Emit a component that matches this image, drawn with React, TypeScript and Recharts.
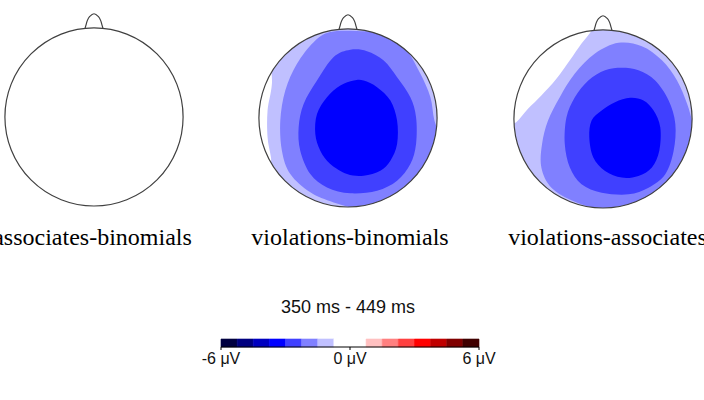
import React from 'react';
import { ScatterChart, Scatter, XAxis, YAxis, ReferenceArea } from 'recharts';

type Pt = { x: number; y: number };

const timeWindow = '350 ms - 449 ms';
const headLabels = ['associates-binomials', 'violations-binomials', 'violations-associates'];

// contour fill colours, outermost level first
const levelColors = ['#C0C0FF', '#8080FF', '#4040FF', '#0000FF'];

// scalp: left, top, right, bottom of the circle (radius 100)
const scalpExtent = [[-100, 0], [0, 100], [100, 0], [0, -100]];
const noseOutline = [[-10, 99.5], [-9, 103], [-7.5, 108], [-5, 112.5], [0, 115.7], [5, 112.5], [7.5, 108], [9, 103], [10, 99.5]];

// violations-binomials
const vbLevel1 = [[-85, 78], [-85.4, 38.2], [-90.3, 8.2], [-90.3, -21.7], [-86.5, -44.2], [-84, -66], [-60, -118], [118, -118], [118, 118], [-60, 118]];
const vbLevel2 = [[-19.9, 96.3], [10.1, 97.4], [47.6, 93.6], [66.3, 75.7], [81.3, 49.4], [92.5, 23.2], [97, -3], [105.6, -29.2], [103.7, -74.2], [58.8, -111.6], [17.6, -104], [-16.1, -94.8], [-42.3, -83.5], [-64.8, -62.9], [-74.2, -36.7], [-76, -3], [-70.4, 30.7], [-57.3, 60.7], [-38.6, 85]];
const vbLevel3 = [[2.6, 76.4], [21.3, 74.9], [40.1, 64.4], [55.1, 45.7], [70, 23.2], [76.4, 0.7], [76.4, -29.2], [70, -51.7], [55.1, -70.4], [32.6, -81.6], [2.6, -84.6], [-23.6, -77.9], [-42.3, -62.9], [-53.6, -36.7], [-55.4, -10.5], [-49.8, 15.7], [-34.8, 41.9], [-16.1, 68.2]];
const vbLevel4 = [[6.4, 41.9], [-8.6, 36.3], [-23.6, 23.2], [-34.8, 4.5], [-36.7, -18], [-31.1, -36.7], [-19.9, -51.7], [-1.1, -62.9], [17.6, -64.8], [36.3, -59.2], [47.6, -47.9], [55.1, -29.2], [55.1, -3], [47.6, 19.5], [32.6, 34.5], [17.6, 41.9]];

// violations-associates
const vaLevel1 = [[-5, 118], [-12, 100.4], [-24.1, 84.6], [-37.2, 65.8], [-52.3, 45.1], [-69.2, 26.3], [-84.2, 11.3], [-97.4, -3.8], [-112, -12], [-118, -118], [118, -118], [118, 118]];
const vaLevel2 = [[-9, 73.3], [17.3, 85.3], [43.6, 81.6], [66.2, 65.8], [83.1, 43.2], [94.4, 16.9], [101.9, -9.4], [109.4, -39.5], [100, -88.3], [47.4, -110.9], [2.3, -103.4], [-31.6, -92.9], [-57.9, -77.1], [-69.2, -54.5], [-68.4, -28.2], [-61.7, -1.9], [-48.5, 24.4], [-31.6, 50.8]];
const vaLevel3 = [[21.1, 57.5], [2.3, 54.5], [-16.5, 43.2], [-31.6, 24.4], [-41, 1.9], [-42.9, -28.2], [-37.2, -54.5], [-24.1, -73.3], [-1.5, -82.7], [28.6, -84.6], [51.1, -77.1], [69.9, -62], [79.3, -35.7], [81.2, -5.6], [73.7, 20.7], [58.6, 43.2], [39.8, 54.5]];
const vaLevel4 = [[30.5, 23.7], [13.5, 18.8], [-1.5, 9.4], [-12.8, -1.9], [-15.4, -20.7], [-10.9, -43.2], [2.3, -58.3], [21.1, -65.8], [39.8, -63.9], [54.9, -54.5], [63.2, -35.7], [64.3, -9.4], [56.8, 9.4], [45.5, 20.7]];

const contoursByHead = [[], [vbLevel1, vbLevel2, vbLevel3, vbLevel4], [vaLevel1, vaLevel2, vaLevel3, vaLevel4]];

// colour scale, -6 to 6 µV
const scaleEdges = [-6, -5.25, -4.5, -3.75, -3, -2.25, -1.5, -0.75, 0, 0.75, 1.5, 2.25, 3, 3.75, 4.5, 5.25, 6];
const scaleColors = ['#000040', '#000080', '#0000C0', '#0000FF', '#4040FF', '#8080FF', '#C0C0FF', '#FFFFFF', '#FFFFFF', '#FFC0C0', '#FF8080', '#FF4040', '#FF0000', '#C00000', '#800000', '#400000'];
const scaleTicks = [-6, 0, 6];
const scaleCorners = [{ x: -6, y: 0 }, { x: 6, y: 1 }];

const headBoxes = [
  { left: -4.5, top: 0.9 },
  { left: 249.7, top: 1.7 },
  { left: 505, top: 2.5 },
];
const labelX = [92.5, 350, 607.5];

const SANS = "'Liberation Sans', Arial, sans-serif";
const SERIF = "'Liberation Serif', 'Times New Roman', serif";

const toPts = (arr: number[][]): Pt[] => arr.map(([x, y]) => ({ x, y }));
const noMarker = () => <g />;

// catmull-rom through the points
function smoothPath(p: Pt[], closed: boolean) {
  const n = p.length;
  const at = (i: number) => (closed ? p[(i + n) % n] : p[Math.max(0, Math.min(n - 1, i))]);
  let d = `M${p[0].x},${p[0].y}`;
  const last = closed ? n : n - 1;
  for (let i = 0; i < last; i++) {
    const p0 = at(i - 1), p1 = at(i), p2 = at(i + 1), p3 = at(i + 2);
    d += ` C${p1.x + (p2.x - p0.x) / 6},${p1.y + (p2.y - p0.y) / 6} ${p2.x - (p3.x - p1.x) / 6},${p2.y - (p3.y - p1.y) / 6} ${p2.x},${p2.y}`;
  }
  return closed ? d + 'Z' : d;
}

function circleOf(points: Pt[]) {
  const xs = points.map(p => p.x);
  const ys = points.map(p => p.y);
  return {
    cx: (Math.min(...xs) + Math.max(...xs)) / 2,
    cy: (Math.min(...ys) + Math.max(...ys)) / 2,
    r: (Math.max(...xs) - Math.min(...xs)) / 2,
  };
}

function Head({ index }: { index: number }) {
  const clipId = `scalp-clip-${index}`;
  const scalp = toPts(scalpExtent);

  const scalpFill = (lp: any) => {
    const c = circleOf(lp.points);
    return (
      <g>
        <defs>
          <clipPath id={clipId}>
            <circle cx={c.cx} cy={c.cy} r={c.r} />
          </clipPath>
        </defs>
        <circle cx={c.cx} cy={c.cy} r={c.r} fill="#fff" />
      </g>
    );
  };
  const scalpLine = (lp: any) => {
    const c = circleOf(lp.points);
    return <circle cx={c.cx} cy={c.cy} r={c.r} fill="none" stroke="#404040" strokeWidth={1.2} />;
  };

  return (
    <ScatterChart width={196} height={214} margin={{ top: 0, right: 0, bottom: 0, left: 0 }}>
      <XAxis type="number" dataKey="x" domain={[-110, 110]} allowDataOverflow hide />
      <YAxis type="number" dataKey="y" domain={[-110, 130]} allowDataOverflow hide />
      <Scatter data={scalp} line={scalpFill} shape={noMarker} isAnimationActive={false} />
      {contoursByHead[index].map((level, i) => (
        <Scatter
          key={i}
          data={toPts(level)}
          line={(lp: any) => <path d={smoothPath(lp.points, true)} fill={levelColors[i]} stroke="none" clipPath={`url(#${clipId})`} />}
          shape={noMarker}
          isAnimationActive={false}
        />
      ))}
      <Scatter data={scalp} line={scalpLine} shape={noMarker} isAnimationActive={false} />
      <Scatter
        data={toPts(noseOutline)}
        line={(lp: any) => <path d={smoothPath(lp.points, false)} fill="none" stroke="#404040" strokeWidth={1.2} />}
        shape={noMarker}
        isAnimationActive={false}
      />
    </ScatterChart>
  );
}

export default function App() {
  return (
    <div style={{ position: 'absolute', left: 0, top: 0, width: 704, height: 400, background: '#fff', overflow: 'hidden' }}>
      <svg width={704} height={400} style={{ position: 'absolute', left: 0, top: 0 }}>
        {headLabels.map((t, i) => (
          <text key={t} x={labelX[i]} y={245} textAnchor="middle" fontFamily={SERIF} fontSize={24} fill="#000">
            {t}
          </text>
        ))}
        <text x={348} y={313} textAnchor="middle" fontFamily={SANS} fontSize={18} fill="#111">
          {timeWindow}
        </text>
      </svg>

      {headBoxes.map((b, i) => (
        <div key={i} style={{ position: 'absolute', left: b.left, top: b.top }}>
          <Head index={i} />
        </div>
      ))}

      <div style={{ position: 'absolute', left: 191, top: 335 }}>
        <ScatterChart width={318} height={42} margin={{ top: 4, right: 30, bottom: 0, left: 30 }}>
          <XAxis
            type="number"
            dataKey="x"
            domain={[-6, 6]}
            ticks={scaleTicks}
            interval={0}
            allowDataOverflow
            tickFormatter={(v: number) => `${v} μV`}
            stroke="#000"
            tickSize={3}
            tickMargin={3}
            height={30}
            tick={{ fill: '#111', fontSize: 16, fontFamily: SANS }}
          />
          <YAxis type="number" dataKey="y" domain={[0, 1]} allowDataOverflow hide />
          <Scatter data={scaleCorners} shape={noMarker} isAnimationActive={false} />
          {scaleColors.map((c, i) => (
            <ReferenceArea
              key={i}
              x1={scaleEdges[i]}
              x2={scaleEdges[i + 1]}
              y1={0}
              y2={1}
              fill={c}
              fillOpacity={1}
              stroke={c}
              strokeWidth={0.6}
              ifOverflow="visible"
            />
          ))}
        </ScatterChart>
      </div>
    </div>
  );
}
